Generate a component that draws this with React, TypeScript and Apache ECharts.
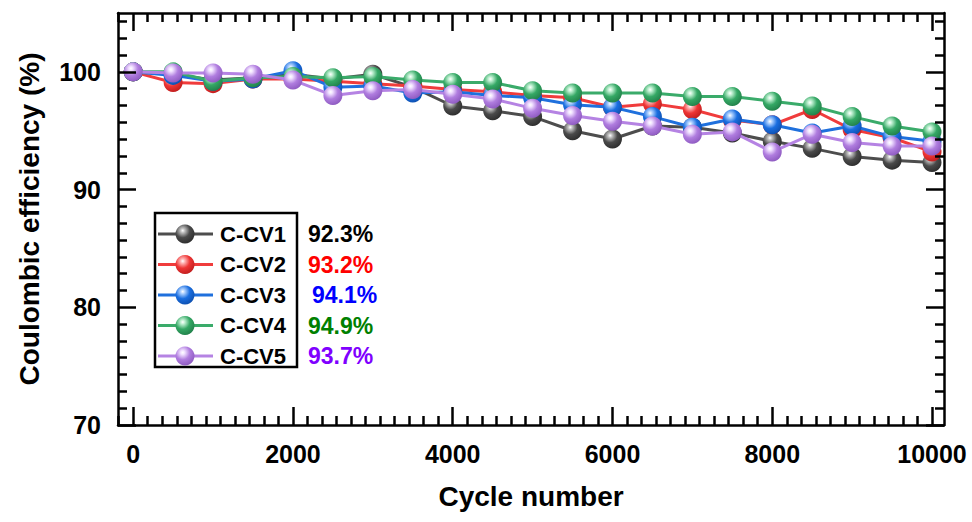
import React, { useEffect, useRef } from "react";
import * as echarts from "echarts";

// Cycle counts at which efficiency was sampled
const cycles = [
  0, 500, 1000, 1500, 2000, 2500, 3000, 3500, 4000, 4500, 5000,
  5500, 6000, 6500, 7000, 7500, 8000, 8500, 9000, 9500, 10000,
];

// Coulombic efficiency (%) for each protocol
const cv1 = [100, 99.8, 99.3, 99.5, 99.8, 99.4, 99.8, 98.7, 97.1, 96.7, 96.2, 95.0, 94.3, 95.4, 95.3, 94.8, 94.1, 93.5, 92.8, 92.5, 92.3];
const cv2 = [100, 99.1, 99.0, 99.4, 99.4, 99.2, 99.0, 98.8, 98.5, 98.3, 98.0, 97.8, 97.0, 97.3, 96.8, 95.9, 95.5, 96.8, 95.1, 94.4, 93.2];
const cv3 = [100, 99.7, 99.2, 99.4, 100.1, 98.7, 98.8, 98.2, 98.3, 98.0, 97.8, 97.2, 97.0, 96.2, 95.3, 96.0, 95.5, 94.8, 95.4, 94.5, 94.1];
const cv4 = [100, 100.0, 99.2, 99.5, 99.6, 99.5, 99.6, 99.3, 99.1, 99.1, 98.4, 98.2, 98.2, 98.2, 97.9, 97.9, 97.5, 97.1, 96.2, 95.4, 94.9];
const cv5 = [100, 99.9, 99.9, 99.8, 99.3, 98.0, 98.4, 98.5, 98.1, 97.7, 96.9, 96.3, 95.8, 95.4, 94.7, 94.9, 93.2, 94.7, 94.0, 93.7, 93.7];

const seriesNames = ["C-CV1", "C-CV2", "C-CV3", "C-CV4", "C-CV5"];
const seriesValues = [cv1, cv2, cv3, cv4, cv5];
const retentionLabels = ["92.3%", "93.2%", "94.1%", "94.9%", "93.7%"];

// Axis tick labels
const xMajorTicks = [0, 2000, 4000, 6000, 8000, 10000];
const yMajorTicks = [70, 80, 90, 100];

const lineColors = ["#4d4d4d", "#f03c3c", "#1f70dd", "#3aab6a", "#b583e3"];
const ballColors = [
  { light: "#c0c0c0", base: "#4a4a4a", dark: "#2a2a2a" },
  { light: "#ffb8b8", base: "#ee3535", dark: "#bb1b1b" },
  { light: "#b0d2ff", base: "#1a6ee0", dark: "#0c4caa" },
  { light: "#c0f0d2", base: "#35a865", dark: "#1f7c47" },
  { light: "#f0e0ff", base: "#b07ddf", dark: "#8a56bd" },
];
const labelColors = ["#000000", "#ff0000", "#0000ff", "#008000", "#8000ff"];

const FONT = "'Liberation Sans', Arial, sans-serif";

const X_MIN = -190;
const X_MAX = 10150;
const Y_MIN = 70;
const Y_MAX = 105;

function minorTicks(min: number, max: number, major: number, parts: number) {
  const step = major / parts;
  const out: number[] = [];
  const kStart = Math.ceil(min / step);
  const kEnd = Math.floor(max / step);
  for (let k = kStart; k <= kEnd; k++) {
    if (k % parts === 0) continue;
    out.push(+(k * step).toFixed(4));
  }
  return out;
}

const xMinor = minorTicks(X_MIN, X_MAX, 2000, 11);
const yMinor = minorTicks(Y_MIN, Y_MAX, 10, 7);

function ballStops(i: number) {
  const c = ballColors[i];
  return [
    { offset: 0, color: "#ffffff" },
    { offset: 0.15, color: c.light },
    { offset: 0.5, color: c.base },
    { offset: 1, color: c.dark },
  ];
}

function ball(i: number) {
  return { type: "radial", x: 0.38, y: 0.32, r: 0.75, colorStops: ballStops(i) };
}

const titleStyle = { color: "#000", fontSize: 28, fontWeight: "bold", fontFamily: FONT };
const tickLabelStyle = { color: "#000", fontSize: 25, fontWeight: "bold", fontFamily: FONT };

function xAxisDef(position: "bottom" | "top", major: boolean, withLabels: boolean) {
  return {
    type: "value",
    position,
    offset: 0,
    min: X_MIN,
    max: X_MAX,
    z: 10,
    axisLine: { show: major, onZero: false, lineStyle: { color: "#000", width: 2.5 } },
    axisTick: {
      show: true,
      inside: true,
      length: major ? 18 : 9,
      customValues: major ? xMajorTicks : xMinor,
      lineStyle: { color: "#000", width: 2.5 },
    },
    axisLabel: {
      show: withLabels,
      customValues: xMajorTicks,
      formatter: (v: number) => String(v),
      margin: 16,
      ...tickLabelStyle,
    },
    splitLine: { show: false },
    ...(withLabels
      ? { name: "Cycle number", nameLocation: "middle", nameGap: 57, nameTextStyle: titleStyle }
      : {}),
  };
}

function yAxisDef(position: "left" | "right", major: boolean, withLabels: boolean) {
  return {
    type: "value",
    position,
    offset: 0,
    min: Y_MIN,
    max: Y_MAX,
    z: 10,
    axisLine: { show: major, onZero: false, lineStyle: { color: "#000", width: 2.5 } },
    axisTick: {
      show: true,
      inside: true,
      length: major ? 18 : 9,
      customValues: major ? yMajorTicks : yMinor,
      lineStyle: { color: "#000", width: 2.5 },
    },
    axisLabel: {
      show: withLabels,
      customValues: yMajorTicks,
      formatter: (v: number) => String(v),
      margin: 17,
      ...tickLabelStyle,
    },
    splitLine: { show: false },
    ...(withLabels
      ? { name: "Coulombic efficiency (%)", nameLocation: "middle", nameGap: 75, nameTextStyle: titleStyle }
      : {}),
  };
}

export default function App() {
  const ref = useRef<HTMLDivElement>(null);

  useEffect(() => {
    if (!ref.current) return;
    document.body.style.margin = "0";
    const chart = echarts.init(ref.current, undefined, { renderer: "svg" });

    const series = seriesNames.map((name, i) => ({
      name,
      type: "line",
      xAxisIndex: 0,
      yAxisIndex: 0,
      data: cycles.map((c, j) => [c, seriesValues[i][j]]),
      symbol: "circle",
      symbolSize: 19,
      showSymbol: true,
      lineStyle: { color: lineColors[i], width: 3 },
      itemStyle: { color: ball(i), borderWidth: 0 },
      z: 2 + i,
      emphasis: { disabled: true },
    }));

    // Legend box: sample line + sphere + name, with the retained efficiency beside it
    const rowY0 = 234;
    const rowStep = 30.5;
    const legendItems: any[] = [];
    seriesNames.forEach((name, i) => {
      const cy = rowY0 + i * rowStep;
      legendItems.push(
        {
          type: "line",
          shape: { x1: 158, y1: cy, x2: 213, y2: cy },
          style: { stroke: lineColors[i], lineWidth: 3 },
          z: 20,
        },
        {
          type: "circle",
          shape: { cx: 185, cy, r: 9.5 },
          style: { fill: new echarts.graphic.RadialGradient(0.38, 0.32, 0.75, ballStops(i)) },
          z: 21,
        },
        {
          type: "text",
          x: 220,
          y: cy,
          style: { text: name, fill: "#000", font: `bold 22px ${FONT}`, verticalAlign: "middle" },
          z: 21,
        },
        {
          type: "text",
          x: i === 2 ? 312 : 308,
          y: cy,
          style: {
            text: retentionLabels[i],
            fill: labelColors[i],
            font: `bold 23px ${FONT}`,
            verticalAlign: "middle",
          },
          z: 21,
        }
      );
    });

    chart.setOption({
      animation: false,
      backgroundColor: "#ffffff",
      grid: { left: 118, right: 28, top: 13, bottom: 97, containLabel: false },
      xAxis: [
        xAxisDef("bottom", true, true),
        xAxisDef("bottom", false, false),
        xAxisDef("top", true, false),
        xAxisDef("top", false, false),
      ],
      yAxis: [
        yAxisDef("left", true, true),
        yAxisDef("left", false, false),
        yAxisDef("right", true, false),
        yAxisDef("right", false, false),
      ],
      graphic: [
        {
          type: "rect",
          shape: { x: 155, y: 213, width: 142, height: 154 },
          style: { fill: "#fff", stroke: "#000", lineWidth: 2.5 },
          z: 19,
        },
        ...legendItems,
      ],
      series,
    });

    return () => chart.dispose();
  }, []);

  return <div ref={ref} style={{ width: 972, height: 522 }} />;
}
